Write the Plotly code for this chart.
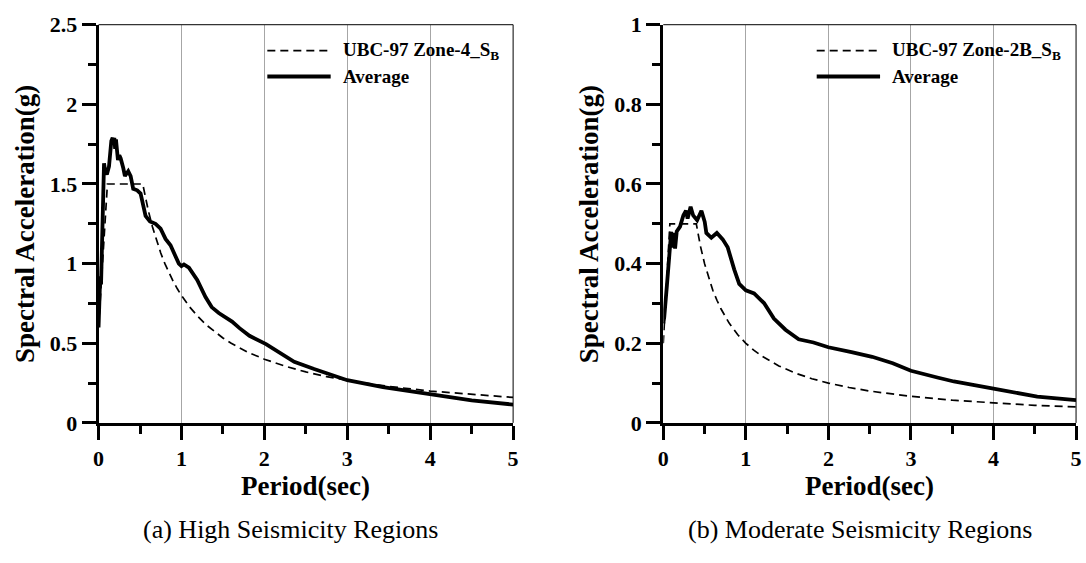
import plotly.graph_objects as go

W, H = 1086, 563

# ---------------- data ----------------
# (a) High seismicity: UBC-97 Zone-4 S_B design spectrum
high_code_T = [0.0, 0.107, 0.533, 0.55, 0.6, 0.65, 0.7, 0.75, 0.8, 0.85, 0.9, 0.95, 1.0,
               1.1, 1.2, 1.3, 1.4, 1.5, 1.6, 1.8, 2.0, 2.25, 2.5, 2.75, 3.0, 3.5, 4.0, 4.5, 5.0]
high_code_Sa = [0.60, 1.50, 1.50, 1.455, 1.333, 1.231, 1.143, 1.067, 1.0, 0.941, 0.889, 0.842, 0.80,
                0.727, 0.667, 0.615, 0.571, 0.533, 0.50, 0.444, 0.40, 0.356, 0.32, 0.291, 0.267,
                0.229, 0.20, 0.178, 0.16]
# (a) Average spectrum
high_avg_T = [0.0, 0.01, 0.02, 0.03, 0.045, 0.055, 0.066, 0.08, 0.1, 0.126, 0.154, 0.17, 0.18,
              0.19, 0.2, 0.21, 0.234, 0.25, 0.267, 0.298, 0.318, 0.358, 0.387, 0.418, 0.466,
              0.507, 0.567, 0.62, 0.687, 0.748, 0.808, 0.868, 0.93, 0.968, 1.0, 1.03, 1.09,
              1.19, 1.29, 1.364, 1.45, 1.53, 1.61, 1.7, 1.82, 2.02, 2.19, 2.36, 2.6, 2.81,
              3.0, 3.43, 4.0, 4.5, 5.0]
high_avg_Sa = [0.60, 0.80, 0.92, 0.87, 1.20, 1.50, 1.63, 1.58, 1.56, 1.61, 1.77, 1.79, 1.75,
               1.79, 1.72, 1.78, 1.65, 1.68, 1.66, 1.60, 1.55, 1.58, 1.55, 1.47, 1.46,
               1.44, 1.30, 1.265, 1.25, 1.22, 1.155, 1.115, 1.04, 1.0, 0.985, 0.995, 0.975,
               0.897, 0.79, 0.727, 0.69, 0.666, 0.636, 0.595, 0.547, 0.495, 0.44, 0.384, 0.338, 0.30,
               0.268, 0.225, 0.179, 0.142, 0.115]

# (b) Moderate seismicity: UBC-97 Zone-2B S_B design spectrum
mod_code_T = [0.0, 0.08, 0.40, 0.45, 0.5, 0.55, 0.6, 0.65, 0.7, 0.8, 0.9, 1.0, 1.1, 1.2, 1.3,
              1.4, 1.6, 1.8, 2.0, 2.25, 2.5, 2.75, 3.0, 3.5, 4.0, 4.5, 5.0]
mod_code_Sa = [0.20, 0.50, 0.50, 0.444, 0.40, 0.364, 0.333, 0.308, 0.286, 0.25, 0.222, 0.20,
               0.182, 0.167, 0.154, 0.143, 0.125, 0.111, 0.10, 0.089, 0.08, 0.073, 0.0667,
               0.057, 0.05, 0.044, 0.04]
# (b) Average spectrum
mod_avg_T = [0.0, 0.012, 0.044, 0.084, 0.096, 0.11, 0.123, 0.143, 0.163, 0.203, 0.243, 0.275,
             0.295, 0.331, 0.362, 0.41, 0.462, 0.502, 0.522, 0.582, 0.649, 0.72, 0.78, 0.86,
             0.92, 1.0, 1.1, 1.22, 1.34, 1.48, 1.64, 1.82, 2.0, 2.28, 2.53, 2.78, 3.0, 3.32,
             3.52, 4.0, 4.53, 5.0]
mod_avg_Sa = [0.25, 0.266, 0.345, 0.433, 0.48, 0.44, 0.477, 0.438, 0.481, 0.493, 0.521, 0.533,
              0.513, 0.543, 0.521, 0.509, 0.533, 0.505, 0.477, 0.465, 0.477, 0.461, 0.441, 0.385,
              0.349, 0.333, 0.325, 0.301, 0.262, 0.234, 0.21, 0.202, 0.19, 0.178, 0.166, 0.15,
              0.131, 0.114, 0.104, 0.086, 0.066, 0.057]

x_ticks = [0, 1, 2, 3, 4, 5]
high_y_ticks = [0, 0.5, 1, 1.5, 2, 2.5]
mod_y_ticks = [0, 0.2, 0.4, 0.6, 0.8, 1]

legend_high = ["UBC-97 Zone-4_S<sub>B</sub>", "Average"]
legend_mod = ["UBC-97 Zone-2B_S<sub>B</sub>", "Average"]
x_title = "Period(sec)"
y_title = "Spectral Acceleration(g)"
captions = ["(a) High Seismicity Regions", "(b) Moderate Seismicity Regions"]

# ---------------- layout helpers ----------------
FONT = "Liberation Serif, Times New Roman, serif"
def px_x(p):
    return p / W
def px_y(p):
    return 1 - p / H

left_dom = [93.5 / W, 512.3 / W]
right_dom = [664.0 / W, 1081.0 / W]
y_dom = [(H - 430.0) / H, (H - 13.3) / H]

fig = go.Figure()

dash_line = dict(color="black", width=1.7, dash="8px,5px")
solid_line = dict(color="black", width=3.8)

fig.add_trace(go.Scatter(x=high_code_T, y=high_code_Sa, mode="lines", line=dash_line,
                         xaxis="x", yaxis="y", showlegend=False))
fig.add_trace(go.Scatter(x=high_avg_T, y=high_avg_Sa, mode="lines", line=solid_line,
                         xaxis="x", yaxis="y", showlegend=False))
fig.add_trace(go.Scatter(x=mod_code_T, y=mod_code_Sa, mode="lines", line=dash_line,
                         xaxis="x2", yaxis="y2", showlegend=False))
fig.add_trace(go.Scatter(x=mod_avg_T, y=mod_avg_Sa, mode="lines", line=solid_line,
                         xaxis="x2", yaxis="y2", showlegend=False))

tickfont = dict(family=FONT, size=22, color="black", weight="bold")

def xaxis_cfg(dom, anchor):
    return dict(domain=dom, anchor=anchor, range=[0, 5], tickvals=x_ticks,
                showline=True, linewidth=3, linecolor="black",
                ticks="outside", ticklen=14, tickwidth=3, tickcolor="black",
                minor=dict(ticks="outside", ticklen=8, tickwidth=3, tickcolor="black",
                           dtick=0.5, showgrid=False),
                showgrid=True, gridcolor="#a6a6a6", gridwidth=1,
                zeroline=False, tickfont=tickfont)

def yaxis_cfg(anchor, rng, tv, mdt):
    return dict(domain=y_dom, anchor=anchor, range=rng, tickvals=tv,
                showline=True, linewidth=3, linecolor="black",
                ticks="outside", ticklen=14, tickwidth=3, tickcolor="black",
                minor=dict(ticks="outside", ticklen=8, tickwidth=3, tickcolor="black",
                           dtick=mdt, showgrid=False),
                showgrid=False, zeroline=False, tickfont=tickfont)

fig.update_layout(
    width=W, height=H,
    margin=dict(l=0, r=0, t=0, b=0),
    paper_bgcolor="white", plot_bgcolor="white",
    showlegend=False,
    xaxis=xaxis_cfg(left_dom, "y"),
    yaxis=yaxis_cfg("x", [0, 2.5], high_y_ticks, 0.25),
    xaxis2=xaxis_cfg(right_dom, "y2"),
    yaxis2=yaxis_cfg("x2", [0, 1], mod_y_ticks, 0.1),
)

shapes = []
# thin top / right borders
for xr, yr in (("x domain", "y domain"), ("x2 domain", "y2 domain")):
    shapes.append(dict(type="line", xref=xr, yref=yr, x0=0, x1=1, y0=1, y1=1,
                       line=dict(color="black", width=1), layer="above"))
    shapes.append(dict(type="line", xref=xr, yref=yr, x0=1, x1=1, y0=0, y1=1,
                       line=dict(color="black", width=1), layer="above"))

# legend backgrounds (hide gridlines)
for x0, x1 in ((248, 511), (808, 1080)):
    shapes.append(dict(type="rect", xref="paper", yref="paper",
                       x0=px_x(x0), x1=px_x(x1), y0=px_y(90), y1=px_y(14.5),
                       fillcolor="white", line=dict(width=0), layer="between"))

# legend sample lines
for lx0, lx1 in ((264, 328), (819, 883)):
    shapes.append(dict(type="line", xref="paper", yref="paper",
                       x0=px_x(lx0), x1=px_x(lx1), y0=px_y(40.5), y1=px_y(40.5),
                       line=dash_line, layer="above"))
    shapes.append(dict(type="line", xref="paper", yref="paper",
                       x0=px_x(lx0), x1=px_x(lx1), y0=px_y(67.5), y1=px_y(67.5),
                       line=solid_line, layer="above"))

annotations = []
leg_font = dict(family=FONT, size=19, color="black", weight="bold")
for tx, labels in ((338.5, legend_high), (893.5, legend_mod)):
    for ty, lab in zip((40.5, 67.5), labels):
        annotations.append(dict(xref="paper", yref="paper", x=px_x(tx), y=px_y(ty),
                                xanchor="left", yanchor="middle", text=lab,
                                showarrow=False, font=leg_font))

title_font = dict(family=FONT, size=27, color="black", weight="bold")
for cx in (302.5, 872.5):
    annotations.append(dict(xref="paper", yref="paper", x=px_x(cx), y=px_y(496),
                            xanchor="center", yanchor="middle", text=x_title,
                            showarrow=False, font=title_font))
for cx in (19, 589):
    annotations.append(dict(xref="paper", yref="paper", x=px_x(cx), y=px_y(222),
                            xanchor="center", yanchor="middle", text=y_title,
                            textangle=-90, showarrow=False, font=title_font))

cap_font = dict(family=FONT, size=26, color="black")
for cx, cap in zip((287, 863), captions):
    annotations.append(dict(xref="paper", yref="paper", x=px_x(cx), y=px_y(542),
                            xanchor="center", yanchor="middle", text=cap,
                            showarrow=False, font=cap_font))

fig.update_layout(shapes=shapes, annotations=annotations)

fig.write_html("out.html")
